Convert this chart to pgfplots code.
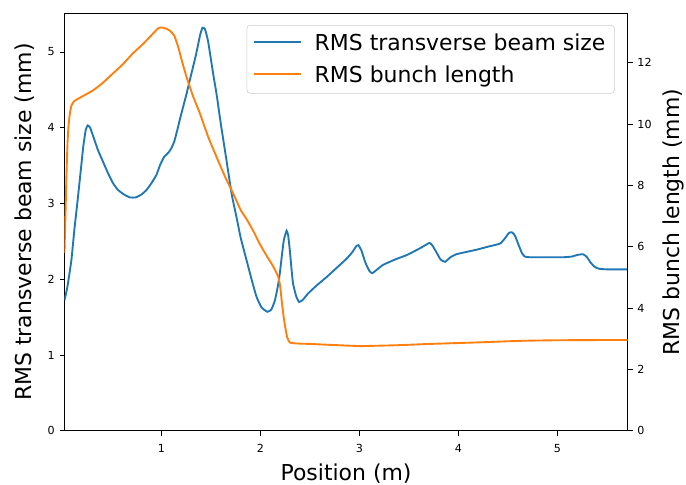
\documentclass[border=0pt]{standalone}
\usepackage{fontspec}
\setmainfont{DejaVu Sans}
\usepackage{pgfplots}
\usepackage{pgfplotstable}
\pgfplotsset{compat=1.18}
\definecolor{mblue}{HTML}{1F77B4}
\definecolor{morange}{HTML}{FF7F0E}
\pgfplotstableread{
x y
0.02 1.72
0.05 1.90
0.09 2.25
0.12 2.65
0.157 3.09
0.19 3.50
0.21 3.75
0.235 3.97
0.255 4.03
0.28 4.00
0.32 3.85
0.36 3.70
0.41 3.55
0.46 3.40
0.51 3.27
0.56 3.18
0.62 3.12
0.68 3.08
0.74 3.08
0.80 3.12
0.85 3.18
0.90 3.27
0.95 3.38
0.99 3.52
1.03 3.62
1.07 3.67
1.10 3.73
1.13 3.82
1.16 3.97
1.20 4.18
1.25 4.43
1.30 4.70
1.35 4.97
1.39 5.22
1.415 5.32
1.44 5.30
1.47 5.15
1.50 4.90
1.53 4.65
1.556 4.45
1.60 4.05
1.657 3.57
1.71 3.12
1.758 2.82
1.80 2.55
1.86 2.25
1.91 2.00
1.96 1.77
2.01 1.63
2.07 1.57
2.11 1.60
2.146 1.72
2.175 1.90
2.196 2.08
2.22 2.35
2.237 2.52
2.264 2.64
2.28 2.58
2.297 2.38
2.315 2.12
2.33 1.94
2.36 1.78
2.39 1.70
2.43 1.73
2.48 1.81
2.57 1.92
2.67 2.03
2.77 2.15
2.87 2.27
2.93 2.36
2.97 2.44
2.99 2.45
3.02 2.38
3.06 2.22
3.10 2.11
3.13 2.08
3.18 2.13
3.24 2.19
3.36 2.26
3.48 2.32
3.60 2.40
3.68 2.46
3.71 2.48
3.74 2.44
3.78 2.35
3.82 2.26
3.865 2.23
3.92 2.29
3.98 2.33
4.08 2.36
4.185 2.39
4.30 2.43
4.42 2.47
4.47 2.54
4.51 2.61
4.54 2.62
4.57 2.58
4.60 2.48
4.64 2.35
4.67 2.30
4.72 2.29
4.90 2.29
5.06 2.29
5.15 2.30
5.20 2.32
5.26 2.33
5.30 2.29
5.33 2.23
5.37 2.17
5.415 2.14
5.50 2.13
5.71 2.13
}\beam
\pgfplotstableread{
x y
0.02 5.8
0.03 7.0
0.04 8.3
0.05 9.3
0.06 9.9
0.073 10.3
0.09 10.6
0.12 10.75
0.20 10.9
0.31 11.1
0.41 11.35
0.51 11.65
0.61 11.95
0.71 12.3
0.81 12.6
0.90 12.9
0.966 13.12
1.00 13.15
1.05 13.11
1.09 13.03
1.13 12.88
1.17 12.5
1.21 12.02
1.253 11.54
1.32 10.9
1.388 10.35
1.47 9.6
1.556 8.93
1.64 8.3
1.724 7.74
1.80 7.2
1.86 6.9
1.93 6.5
1.99 6.11
2.06 5.72
2.13 5.35
2.18 5.02
2.20 4.7
2.214 4.26
2.235 3.7
2.25 3.39
2.27 3.05
2.30 2.87
2.40 2.84
2.50 2.83
2.70 2.80
3.00 2.76
3.04 2.76
3.40 2.79
3.71 2.83
4.20 2.88
4.62 2.93
5.00 2.95
5.71 2.96
}\bunch
\begin{document}
\begin{tikzpicture}
\pgfplotsset{
  common/.style={
    scale only axis, width=405.5pt, height=300.5pt,
    xmin=0.02, xmax=5.71,
    tick align=outside, major tick length=3.5pt,
    /pgf/number format/assume math mode=true,
    tick label style={font=\fontsize{8}{9.6}\selectfont, black},
    label style={font=\fontsize{15.8}{19}\selectfont},
    axis line style={line width=0.6pt},
    every tick/.style={black, line width=0.6pt},
  }
}
\begin{axis}[common, ymin=0, ymax=5.51, ytick={0,1,2,3,4,5}, xtick={1,2,3,4,5},
  xtick pos=bottom, ytick pos=left,
  xticklabel style={yshift=-3pt},
  xlabel={Position (m)}, ylabel={RMS transverse beam size (mm)},
  xlabel style={at={(axis description cs:0.5,0)}, anchor=center, yshift=-31pt},
  ylabel style={at={(axis description cs:0,0.5)}, anchor=center, yshift=28.4pt}]
\addplot[mblue, line width=1.35pt, smooth, tension=0.3] table {\beam};
\end{axis}
\begin{axis}[common, ymin=0, ymax=13.61, ytick={0,2,4,6,8,10,12},
  axis y line*=right, axis x line=none,
  ylabel={RMS bunch length (mm)},
  ylabel style={at={(axis description cs:1,0.5)}, anchor=center, yshift=-33.3pt},
  legend cell align=left,
  legend image code/.code={\draw[#1, line width=1.35pt] (0pt,1pt) -- (34pt,1pt);},
  legend style={at={(0.977,0.972)}, anchor=north east,
    font=\fontsize{15.8}{19}\selectfont, draw=black!20, rounded corners=2.5pt,
    fill=white, fill opacity=0.8, text opacity=1, inner xsep=4.5pt, inner ysep=4pt,
    row sep=6pt, /tikz/every odd column/.append style={column sep=7pt}}]
\addlegendimage{color=mblue, line width=1.35pt, solid}
\addlegendentry{RMS transverse beam size}
\addplot[morange, line width=1.35pt, smooth, tension=0.3] table {\bunch};
\addlegendentry{RMS bunch length}
\end{axis}
\pgfresetboundingbox
\useasboundingbox (-46.4pt,-38.4pt) rectangle (447.5pt,310.1pt);
\end{tikzpicture}
\end{document}
